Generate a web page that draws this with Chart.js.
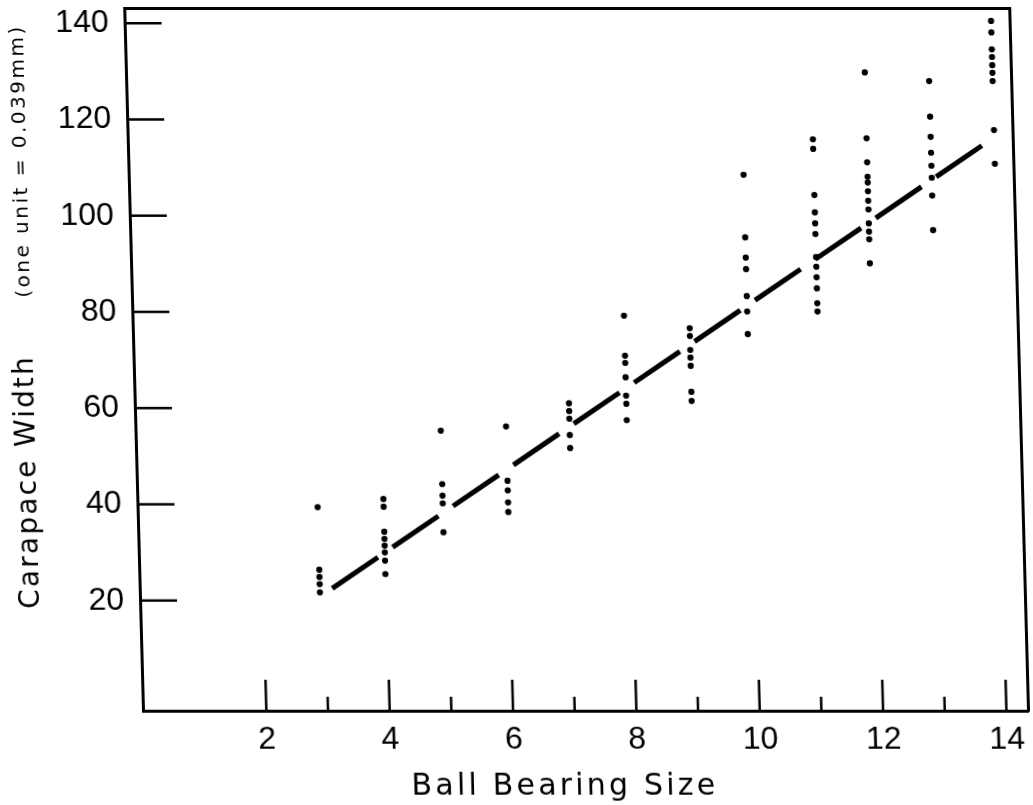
<!DOCTYPE html>
<html>
<head>
<meta charset="utf-8">
<script src="https://cdn.jsdelivr.net/npm/chart.js@4.4.1/dist/chart.umd.min.js"></script>
<style>
  html, body { margin: 0; padding: 0; background: #ffffff; }
  #wrap { width: 1033px; height: 805px; overflow: hidden; background: #ffffff; }
  /* the scanned original is slightly sheared: reproduce that with a small skew */
  canvas { display: block; transform: skewX(1.53deg); transform-origin: 0 711px; }
</style>
</head>
<body>
<div id="wrap"><canvas id="chart" width="1033" height="805"></canvas></div>
<script>
// ---- data ----
const bearingSize = [2.92, 3.99, 4.95, 6.01, 7.04, 7.97, 9.03, 9.97, 11.11, 11.98, 13.02, 14.05];

const widthAt3  = [39.4, 26.4, 24.9, 23.4, 21.7];
const widthAt4  = [41.1, 39.5, 34.3, 32.8, 31.4, 30.0, 28.3, 25.5];
const widthAt5  = [55.3, 44.2, 41.8, 40.2, 34.2];
const widthAt6  = [56.2, 44.9, 42.9, 40.4, 38.4];
const widthAt7  = [61.0, 59.4, 57.8, 54.4, 51.7];
const widthAt8  = [79.2, 70.9, 69.4, 66.4, 62.6, 60.9, 57.5];
const widthAt9  = [76.6, 75.0, 72.1, 70.5, 68.8, 63.4, 61.5];
const widthAt10 = [108.5, 95.5, 91.3, 88.9, 83.3, 80.1, 75.4];
const widthAt11 = [115.9, 113.9, 104.3, 100.7, 98.4, 96.2, 91.4, 89.4, 87.2, 84.9, 81.8, 80.1];
const widthAt12 = [129.8, 116.1, 111.1, 108.1, 106.9, 105.1, 103.1, 101.3, 98.4, 96.7, 95.1, 90.1];
const widthAt13 = [128.0, 120.6, 116.4, 113.1, 110.4, 107.9, 104.2, 97.0];
const widthAt14 = [140.5, 138.1, 134.6, 133.0, 131.3, 129.7, 128.0, 117.8, 110.8];

// fitted line end points
const fitSize  = [3.05, 13.98];
const fitWidth = [21.9, 115.7];

// ticks and texts
const xTickValues      = [2, 4, 6, 8, 10, 12, 14];
const xTickLabels      = ['2', '4', '6', '8', '10', '12', '14'];
const xMinorTickValues = [3, 5, 7, 9, 11, 13];
const yTickValues      = [20, 40, 60, 80, 100, 120, 140];
const yTickLabels      = ['20', '40', '60', '80', '100', '120', '140'];
const xTitle    = 'Ball Bearing Size';
const yTitle    = 'Carapace Width';
const yUnitNote = '(one unit = 0.039mm)';

// axis ranges
const X_MIN = 0, X_MAX = 14.35;
const Y_MIN = -2.92, Y_MAX = 143.18;

// ---- build datasets ----
const widthGroups = [widthAt3, widthAt4, widthAt5, widthAt6, widthAt7, widthAt8,
                     widthAt9, widthAt10, widthAt11, widthAt12, widthAt13, widthAt14];
const measured = [];
widthGroups.forEach((group, i) => group.forEach(w => measured.push({ x: bearingSize[i], y: w })));
const fitLine = fitSize.map((s, i) => ({ x: s, y: fitWidth[i] }));

const INK = '#000000';
const tickFont = { family: "'Liberation Sans', Arial, sans-serif", size: 32 };
const titleFamily = "'DejaVu Sans', 'Liberation Sans', sans-serif";

// inward tick marks, placed through the scales
const tickMarks = {
  id: 'tickMarks',
  afterDatasetsDraw(chart) {
    const { ctx, chartArea: a, scales } = chart;
    ctx.save();
    ctx.strokeStyle = INK;
    ctx.lineWidth = 2.5;
    ctx.beginPath();
    xTickValues.forEach(v => {
      const px = scales.x.getPixelForValue(v);
      ctx.moveTo(px, a.bottom); ctx.lineTo(px, a.bottom - 31);
    });
    xMinorTickValues.forEach(v => {
      const px = scales.x.getPixelForValue(v);
      ctx.moveTo(px, a.bottom); ctx.lineTo(px, a.bottom - 14);
    });
    yTickValues.forEach(v => {
      const py = scales.y.getPixelForValue(v);
      ctx.moveTo(a.left, py); ctx.lineTo(a.left + 37, py);
    });
    ctx.stroke();
    ctx.restore();
  }
};

// axis titles with the wide letter spacing of the original lettering
const axisTitles = {
  id: 'axisTitles',
  afterDraw(chart) {
    const { ctx } = chart;
    const draw = (text, x, y, rot, size, spacing) => {
      ctx.save();
      ctx.fillStyle = INK;
      ctx.font = size + 'px ' + titleFamily;
      if ('letterSpacing' in ctx) ctx.letterSpacing = spacing + 'px';
      ctx.textAlign = 'center';
      ctx.textBaseline = 'alphabetic';
      ctx.translate(x, y);
      ctx.rotate(rot);
      ctx.fillText(text, 0, 0);
      ctx.restore();
    };
    draw(xTitle, 563, 795, 0, 30, 3.2);
    draw(yTitle, 42, 482, -Math.PI / 2, 28, 2.2);
    draw(yUnitNote, 41, 161, -Math.PI / 2, 20, 2.5);
  }
};

new Chart(document.getElementById('chart'), {
  type: 'scatter',
  data: {
    datasets: [
      {
        label: 'measured',
        data: measured,
        showLine: false,
        pointRadius: 3.1,
        pointBorderWidth: 0,
        pointBackgroundColor: INK,
        pointBorderColor: INK
      },
      {
        label: 'fit',
        data: fitLine,
        showLine: true,
        pointRadius: 0,
        borderColor: INK,
        borderWidth: 5,
        borderDash: [56, 18],
        borderDashOffset: -5.3,
        borderCapStyle: 'butt',
        tension: 0
      }
    ]
  },
  options: {
    responsive: false,
    animation: false,
    events: [],
    layout: { padding: { top: 8, right: 5, left: 0, bottom: 0 } },
    plugins: { legend: { display: false }, tooltip: { enabled: false }, title: { display: false } },
    scales: {
      x: {
        type: 'linear', position: 'bottom', min: X_MIN, max: X_MAX,
        afterBuildTicks: s => { s.ticks = xTickValues.map(v => ({ value: v })); },
        afterFit: s => { s.height = 94; s.paddingLeft = 0; s.paddingRight = 0; },
        ticks: {
          color: INK, font: tickFont, padding: 10, maxRotation: 0, autoSkip: false,
          callback: v => xTickLabels[xTickValues.indexOf(v)]
        },
        grid: { drawOnChartArea: false, drawTicks: false },
        border: { display: true, color: INK, width: 3 }
      },
      y: {
        type: 'linear', position: 'left', min: Y_MIN, max: Y_MAX,
        afterBuildTicks: s => { s.ticks = yTickValues.map(v => ({ value: v })); },
        afterFit: s => { s.width = 143; s.paddingTop = 0; s.paddingBottom = 0; },
        ticks: {
          color: INK, font: tickFont, padding: 16,
          callback: v => yTickLabels[yTickValues.indexOf(v)]
        },
        grid: { drawOnChartArea: false, drawTicks: false },
        border: { display: true, color: INK, width: 3 }
      },
      x2: {
        type: 'linear', position: 'top', min: X_MIN, max: X_MAX,
        afterFit: s => { s.height = 0; s.paddingLeft = 0; s.paddingRight = 0; },
        ticks: { display: false },
        grid: { drawOnChartArea: false, drawTicks: false },
        border: { display: true, color: INK, width: 3 }
      },
      y2: {
        type: 'linear', position: 'right', min: Y_MIN, max: Y_MAX,
        afterFit: s => { s.width = 0; s.paddingTop = 0; s.paddingBottom = 0; },
        ticks: { display: false },
        grid: { drawOnChartArea: false, drawTicks: false },
        border: { display: true, color: INK, width: 3 }
      }
    }
  },
  plugins: [tickMarks, axisTitles]
});
</script>
</body>
</html>
